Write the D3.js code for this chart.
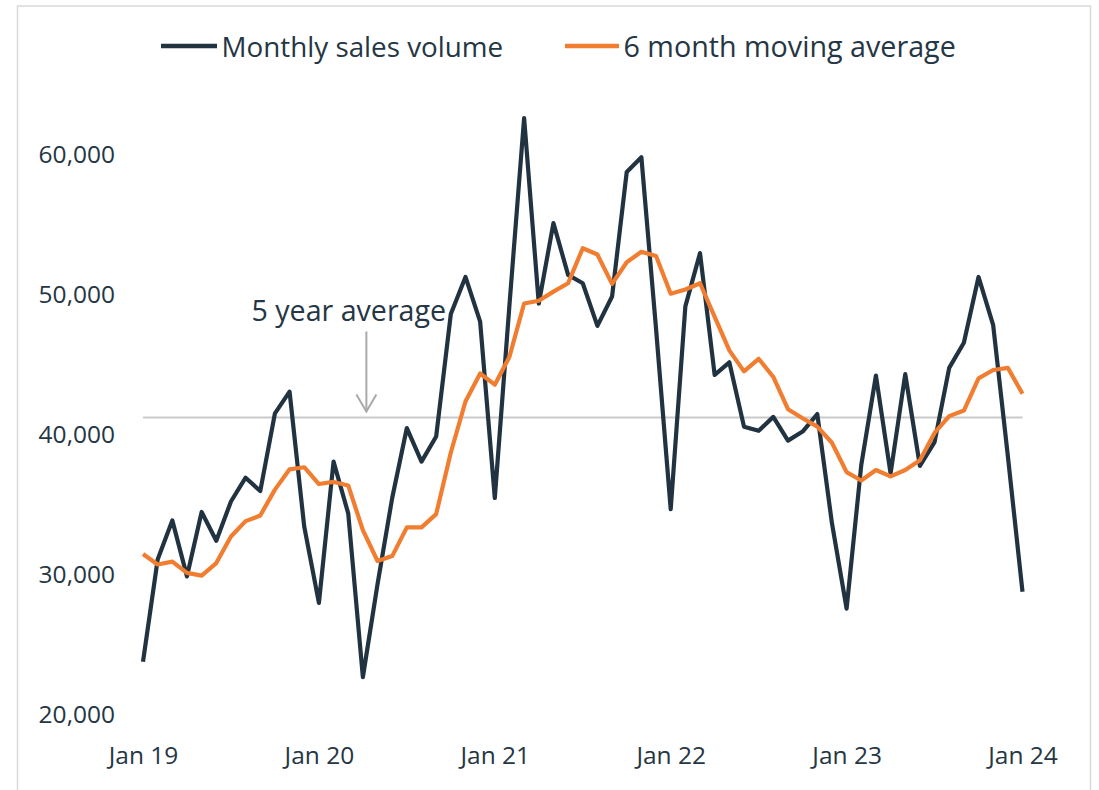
<!DOCTYPE html>
<html>
<head>
<meta charset="utf-8">
<script src="https://cdn.jsdelivr.net/npm/d3@7"></script>
<style>
  html, body { margin: 0; padding: 0; background: #ffffff; }
  svg { display: block; font-family: "Open Sans", "Noto Sans", sans-serif; }
</style>
</head>
<body>
<svg id="chart" width="1099" height="790"></svg>
<script>
// ---- Data ----
const fmtMonth = d3.utcFormat("%b %y");
const months = d3.utcMonth.range(new Date(Date.UTC(2019, 0, 1)), new Date(Date.UTC(2024, 0, 2))).map(fmtMonth);

const monthlySales = [
  23700, 31000, 33800, 29800, 34400, 32350, 35150, 36850, 35900, 41450, 43000, 33350,
  27900, 38000, 34300, 22600, 29250, 35400, 40400, 38000, 39800, 48550, 51200, 48000,
  35400, 49200, 62550, 49300, 55050, 51350, 50750, 47700, 49800, 58700, 59750, 47500,
  34600, 49100, 52900, 44200, 45100, 40500, 40200, 41200, 39500, 40150, 41400, 33600,
  27500, 37750, 44150, 37150, 44250, 37700, 39400, 44700, 46500, 51200, 47750, 38400,
  28700
];

const movingAverage = [
  31400, 30650, 30850, 30050, 29850, 30750, 32650, 33750, 34150, 36000, 37450, 37600,
  36400, 36550, 36300, 33100, 30900, 31250, 33300, 33300, 34250, 38650, 42300, 44300,
  43500, 45500, 49300, 49500, 50150, 50750, 53250, 52800, 50700, 52250, 53000, 52700,
  50000, 50300, 50750, 48350, 45950, 44450, 45350, 44050, 41750, 41100, 40500, 39350,
  37250, 36650, 37400, 36950, 37400, 38100, 40050, 41250, 41650, 43950, 44550, 44700,
  42850
];

const fiveYearAverage = 41150;
const yTicks = [20000, 30000, 40000, 50000, 60000];
const xTickLabels = ["Jan 19", "Jan 20", "Jan 21", "Jan 22", "Jan 23", "Jan 24"];
const seriesNames = ["Monthly sales volume", "6 month moving average"];
const annotationText = "5 year average";
const annotationMonth = "Apr 20";

// ---- Styles ----
const textColor = "#253644";
const darkColor = "#213341";
const orangeColor = "#F07D30";

const svg = d3.select("#chart");

// frame
svg.append("rect")
  .attr("x", 17.5).attr("y", 6)
  .attr("width", 1073).attr("height", 820)
  .attr("fill", "none").attr("stroke", "#d9d9d9").attr("stroke-width", 1.5);

const x = d3.scalePoint().domain(months).range([143, 1022.5]);
const y = d3.scaleLinear().domain([20000, 60000]).range([713.5, 153.8]);

// y axis labels
const yAxis = d3.axisLeft(y).tickValues(yTicks).tickFormat(d3.format(",")).tickSize(0).tickPadding(0);
const gy = svg.append("g").attr("transform", "translate(115,0)").call(yAxis);
gy.select(".domain").remove();
gy.selectAll("text")
  .attr("fill", textColor).attr("font-size", 24.5).attr("font-family", "Open Sans")
  .attr("dy", "0.35em");

// x axis labels
const xAxis = d3.axisBottom(x).tickValues(xTickLabels).tickSize(0).tickPadding(0);
const gx = svg.append("g").attr("transform", "translate(0,755)").call(xAxis);
gx.select(".domain").remove();
gx.selectAll("text")
  .attr("fill", textColor).attr("font-size", 24.5).attr("font-family", "Open Sans")
  .attr("dy", "0.35em");

// five year average reference line
svg.append("line")
  .attr("x1", x(months[0])).attr("x2", x(months[months.length - 1]))
  .attr("y1", y(fiveYearAverage)).attr("y2", y(fiveYearAverage))
  .attr("stroke", "#c9c9c9").attr("stroke-width", 2);

// series lines
const line = d3.line().x((d, i) => x(months[i])).y(d => y(d));

svg.append("path")
  .datum(monthlySales)
  .attr("d", line)
  .attr("fill", "none").attr("stroke", darkColor).attr("stroke-width", 4.2)
  .attr("stroke-linejoin", "round");

svg.append("path")
  .datum(movingAverage)
  .attr("d", line)
  .attr("fill", "none").attr("stroke", orangeColor).attr("stroke-width", 4.2)
  .attr("stroke-linejoin", "round");

// annotation
const ax = x(annotationMonth) + 3.5;
const ayEnd = y(fiveYearAverage) - 6;
svg.append("line")
  .attr("x1", ax).attr("x2", ax).attr("y1", 331.5).attr("y2", ayEnd)
  .attr("stroke", "#a9a9a9").attr("stroke-width", 2);
svg.append("path")
  .attr("d", `M${ax - 10},${ayEnd - 17} L${ax},${ayEnd} L${ax + 10},${ayEnd - 17}`)
  .attr("fill", "none").attr("stroke", "#a9a9a9").attr("stroke-width", 2);
svg.append("text")
  .attr("x", 251.5).attr("y", 321)
  .attr("fill", textColor).attr("font-size", 28.6).attr("font-family", "Open Sans")
  .text(annotationText);

// legend
const legend = [
  { name: seriesNames[0], color: darkColor, x0: 161, x1: 217, tx: 221.5, fs: 27.8 },
  { name: seriesNames[1], color: orangeColor, x0: 565, x1: 619, tx: 623.5, fs: 28.7 }
];
legend.forEach(l => {
  svg.append("line")
    .attr("x1", l.x0).attr("x2", l.x1).attr("y1", 46).attr("y2", 46)
    .attr("stroke", l.color).attr("stroke-width", 4.5);
  svg.append("text")
    .attr("x", l.tx).attr("y", 56.5)
    .attr("fill", textColor).attr("font-size", l.fs).attr("font-family", "Open Sans")
    .text(l.name);
});
</script>
</body>
</html>
